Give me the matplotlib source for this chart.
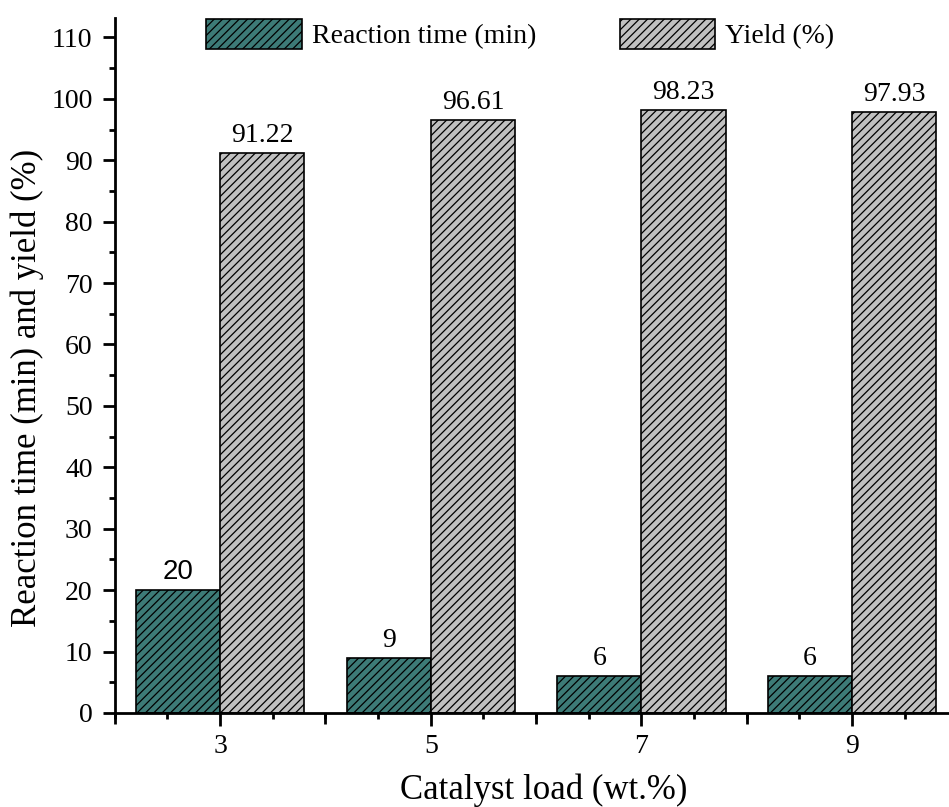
import matplotlib
matplotlib.use("Agg")
import matplotlib.pyplot as plt
import numpy as np
from matplotlib.ticker import MultipleLocator

# data
loads = [3, 5, 7, 9]
reaction_time = [20, 9, 6, 6]
yield_pct = [91.22, 96.61, 98.23, 97.93]
time_labels = ["20", "9", "6", "6"]
yield_labels = ["91.22", "96.61", "98.23", "97.93"]
y_ticks = [0, 10, 20, 30, 40, 50, 60, 70, 80, 90, 100, 110]

plt.rcParams["font.family"] = "Liberation Serif"
plt.rcParams["hatch.linewidth"] = 0.9

teal = "#3d7b77"
grey = "#c0c0c0"
w = 0.8

fig = plt.figure(figsize=(9.49, 8.07), dpi=100)
ax = fig.add_axes([0.121, 0.1165, 0.879, 0.8615])

x = np.array(loads, dtype=float)
ax.bar(x - w / 2, reaction_time, width=w, color=teal, edgecolor="black",
       linewidth=1.2, hatch="////", label="Reaction time (min)")
ax.bar(x + w / 2, yield_pct, width=w, color=grey, edgecolor="black",
       linewidth=1.2, hatch="////", label="Yield (%)")

for i, (xx, v) in enumerate(zip(x, reaction_time)):
    fam = "Liberation Sans" if i == 0 else "Liberation Serif"
    ax.text(xx - w / 2, v + 0.8, time_labels[i], ha="center", va="bottom",
            fontsize=20, family=fam)
for xx, v, lab in zip(x, yield_pct, yield_labels):
    ax.text(xx + w / 2, v + 0.8, lab, ha="center", va="bottom", fontsize=20)

ax.set_xlim(2, 9.92)
ax.set_ylim(0, 113.2)

ax.set_xticks(loads)
ax.set_xticklabels([str(v) for v in loads], fontsize=20)
ax.set_yticks(y_ticks)
ax.set_yticklabels([str(v) for v in y_ticks], fontsize=20)
ax.xaxis.set_minor_locator(MultipleLocator(0.5))
ax.yaxis.set_minor_locator(MultipleLocator(5))

for s in ["top", "right"]:
    ax.spines[s].set_visible(False)
for s in ["left", "bottom"]:
    ax.spines[s].set_linewidth(2)

ax.tick_params(axis="both", which="major", direction="out", length=9, width=2)
ax.tick_params(axis="both", which="minor", direction="out", length=4.5, width=2)
ax.tick_params(axis="y", which="major", pad=7)
ax.tick_params(axis="x", which="major", pad=6)

# long ticks at the integer positions between the labelled ones
for xv in [2, 4, 6, 8]:
    ax.plot([xv, xv], [0, -0.0165], transform=ax.get_xaxis_transform(),
            color="black", lw=2, clip_on=False, solid_capstyle="butt")

fig.text(544 / 949, 1 - 790 / 807, "Catalyst load (wt.%)", fontsize=25,
         ha="center", va="center")
fig.text(27 / 949, 1 - 388 / 807, "Reaction time (min) and yield (%)",
         fontsize=25, rotation=90, ha="center", va="center")

ax.legend(loc="center left", ncol=2, frameon=False, fontsize=20,
          handlelength=3.45, handleheight=1.3, columnspacing=3.0,
          handletextpad=0.36, borderpad=0, borderaxespad=0,
          bbox_to_anchor=(206 / 949, 1 - 34 / 807),
          bbox_transform=fig.transFigure)

fig.savefig("out.png", dpi=100)
